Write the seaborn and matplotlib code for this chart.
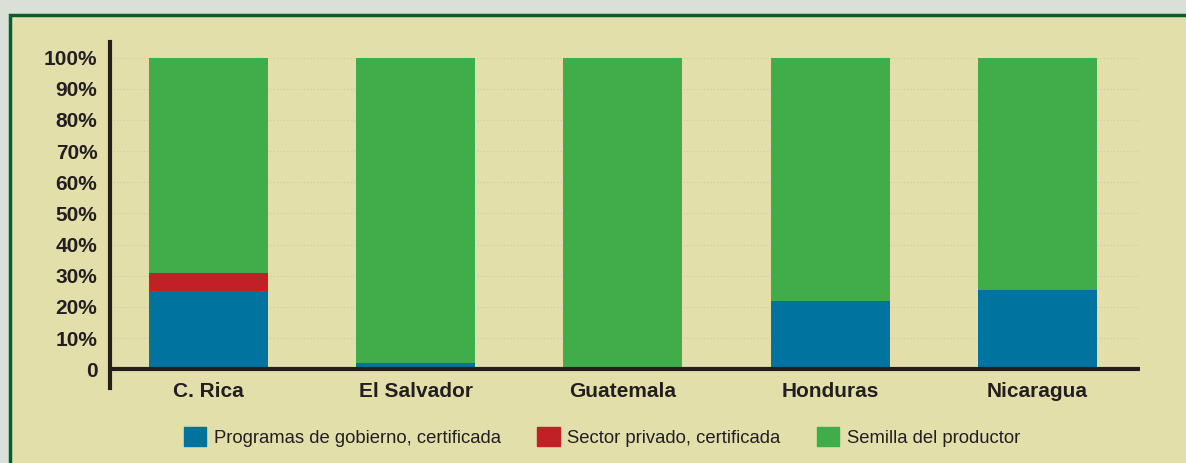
import pandas as pd
import numpy as np
import matplotlib.pyplot as plt
import matplotlib.patches as mpatches
import seaborn as sns

paises = ['C. Rica', 'El Salvador', 'Guatemala', 'Honduras', 'Nicaragua']
gobierno = [25.2, 2.0, 0.0, 21.9, 25.4]
privado = [5.8, 0.0, 0.0, 0.0, 0.0]
productor = [69.0, 98.0, 100.0, 78.1, 74.6]
series = ['Programas de gobierno, certificada', 'Sector privado, certificada', 'Semilla del productor']
colores = ['#00749f', '#c02026', '#41ad4a']
yticks = [0, 10, 20, 30, 40, 50, 60, 70, 80, 90, 100]
ylabels = ['0'] + ['%d%%' % v for v in yticks[1:]]

bg = '#e3dfab'
plt.rcParams['font.family'] = ['Liberation Sans', 'DejaVu Sans']

df = pd.DataFrame({'pais': paises, 'gob': gobierno, 'priv': privado, 'prod': productor})
df['c1'] = df['gob']
df['c2'] = df['gob'] + df['priv']
df['c3'] = df['c2'] + df['prod']

fig = plt.figure(figsize=(11.86, 4.63), dpi=100)
fig.patch.set_facecolor('#dadfd8')
frame = mpatches.Rectangle((10/1186, -0.05), 1.1, (463-15)/463 + 0.05, transform=fig.transFigure,
                           facecolor=bg, edgecolor='#0d5c2e', linewidth=2.5, zorder=-10)
fig.patches.append(frame)

ax = fig.add_axes([110/1186, (463-388)/463, 1030/1186, (388-42)/463])
ax.set_zorder(5)
ax.set_facecolor('none')

for col, c in zip(['c3', 'c2', 'c1'], colores[::-1]):
    sns.barplot(data=df, x='pais', y=col, color=c, width=0.574, ax=ax, saturation=1, zorder=2)

ax.set_ylim(-6, 105)
ax.set_xlim(-0.475, 4.495)
ax.set_yticks(yticks)
ax.set_yticklabels(ylabels, fontsize=15, fontweight='bold', color='#231f20')
ax.set_xticklabels(paises, fontsize=15, fontweight='bold', color='#231f20')
ax.tick_params(axis='y', length=0, pad=9)
ax.tick_params(axis='x', length=0, pad=-4.3)
ax.set_xlabel('')
ax.set_ylabel('')
for y in yticks[1:]:
    ax.axhline(y, color='#cfcb9a', linestyle=(0, (1, 2)), linewidth=0.8, zorder=1)
ax.axhline(0, color='#231f20', linewidth=3, zorder=3)
for s in ['top', 'right', 'bottom']:
    ax.spines[s].set_visible(False)
ax.spines['left'].set_color('#231f20')
ax.spines['left'].set_linewidth(3)

handles = [mpatches.Patch(color=c, label=s) for c, s in zip(colores, series)]
fig.legend(handles=handles, loc='center', bbox_to_anchor=(602/1186, (463-437)/463), ncol=3,
           frameon=False, fontsize=13.3, handlelength=1.2, handleheight=1.2,
           handletextpad=0.4, columnspacing=2.0, labelcolor='#231f20')

fig.savefig('out.png', dpi=100, facecolor=fig.get_facecolor())
